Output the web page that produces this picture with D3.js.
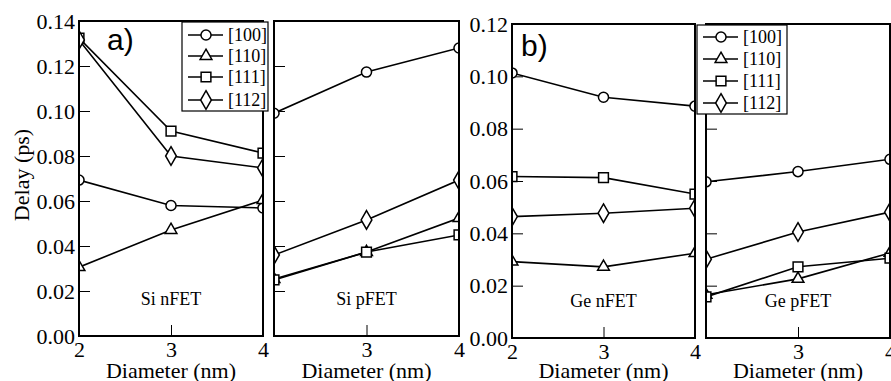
<!DOCTYPE html>
<html>
<head>
<meta charset="utf-8">
<script src="https://cdn.jsdelivr.net/npm/d3@7"></script>
<style>
  body { margin: 0; background: #fff; }
  svg { display: block; }
</style>
</head>
<body>
<script>
// diameters (nm) and orientation names
const diameters = [2, 3, 4];
const orientations = ["[100]", "[110]", "[111]", "[112]"];

// delay (ps), one row per orientation, in the order above
const siNFET = [
    [0.0693, 0.0580, 0.0569],
    [0.0306, 0.0471, 0.0604],
    [0.1324, 0.0911, 0.0813],
    [0.1316, 0.0800, 0.0747]
];
const siPFET = [
    [0.0990, 0.1173, 0.1280],
    [0.0253, 0.0373, 0.0524],
    [0.0249, 0.0373, 0.0449],
    [0.0360, 0.0516, 0.0693]
];
const geNFET = [
    [0.1013, 0.0920, 0.0886],
    [0.0292, 0.0272, 0.0324],
    [0.0617, 0.0613, 0.0550],
    [0.0464, 0.0477, 0.0496]
];
const gePFET = [
    [0.0597, 0.0636, 0.0683],
    [0.0165, 0.0226, 0.0325],
    [0.0157, 0.0272, 0.0305],
    [0.0301, 0.0405, 0.0481]
];

const width = 891, height = 381;
const SERIF = "'Liberation Serif', 'Times New Roman', Times, 'DejaVu Serif', serif";
const SANS = "'Liberation Sans', Arial, Helvetica, sans-serif";

var svg = d3.select("body").append("svg")
    .attr("width", width)
    .attr("height", height);

var panels = [
    { title: "Si nFET", data: siNFET, x0: 79, x1: 263, y0: 21, y1: 336, ymax: 0.14, xticks: [2, 3, 4], ylab: true },
    { title: "Si pFET", data: siPFET, x0: 274, x1: 459, y0: 21, y1: 336, ymax: 0.14, xticks: [3, 4], ylab: false },
    { title: "Ge nFET", data: geNFET, x0: 512, x1: 695, y0: 24, y1: 338, ymax: 0.12, xticks: [2, 3, 4], ylab: true },
    { title: "Ge pFET", data: gePFET, x0: 706, x1: 890, y0: 24, y1: 338, ymax: 0.12, xticks: [3, 4], ylab: false }
];

// marker shapes per orientation
var shapes = [d3.symbolCircle, d3.symbolTriangle, d3.symbolSquare, d3.symbolDiamond];
var sizes = [80, 60, 95, 100];

panels.forEach(function (p, i) {
    var x = d3.scaleLinear().domain([2, 4]).range([p.x0, p.x1]);
    var y = d3.scaleLinear().domain([0, p.ymax]).range([p.y1, p.y0]);

    var g = svg.append("g");

    // y axis, ticks inside
    var yAxis = d3.axisLeft(y)
        .tickValues(d3.range(0, p.ymax + 0.001, 0.02))
        .tickSizeInner(-11).tickSizeOuter(0).tickPadding(4)
        .tickFormat(p.ylab ? d3.format(".2f") : "");
    var ya = g.append("g").attr("transform", "translate(" + p.x0 + ",0)").call(yAxis);
    ya.select(".domain").remove();
    ya.selectAll("text").style("font-size", "22px").style("font-family", SERIF).attr("fill", "#000");
    ya.selectAll("line").attr("stroke", "#000");

    // x axis, ticks inside
    var xAxis = d3.axisBottom(x)
        .tickValues([2, 3, 4])
        .tickSizeInner(-11).tickSizeOuter(0).tickPadding(5)
        .tickFormat(function (d) { return p.xticks.indexOf(d) >= 0 ? d : ""; });
    var xa = g.append("g").attr("transform", "translate(0," + p.y1 + ")").call(xAxis);
    xa.select(".domain").remove();
    xa.selectAll("text").style("font-size", "22px").style("font-family", SERIF).attr("fill", "#000");
    xa.selectAll("line").attr("stroke", "#000");

    // clip for lines and markers
    g.append("clipPath").attr("id", "clip" + i)
        .append("rect")
        .attr("x", p.x0).attr("y", p.y0)
        .attr("width", p.x1 - p.x0).attr("height", p.y1 - p.y0);

    var plot = g.append("g").attr("clip-path", "url(#clip" + i + ")");

    var line = d3.line()
        .x(function (d, j) { return x(diameters[j]); })
        .y(function (d) { return y(d); });

    plot.selectAll(".series")
        .data(p.data)
        .enter().append("path")
        .attr("class", "series")
        .attr("d", line)
        .attr("fill", "none")
        .attr("stroke", "#000")
        .attr("stroke-width", 1.6);

    p.data.forEach(function (row, k) {
        plot.selectAll(".m" + k)
            .data(row)
            .enter().append("path")
            .attr("class", "m" + k)
            .attr("d", d3.symbol().type(shapes[k]).size(sizes[k]))
            .attr("transform", function (d, j) {
                return "translate(" + x(diameters[j]) + "," + y(d) + ")";
            })
            .attr("fill", "#fff")
            .attr("stroke", "#000")
            .attr("stroke-width", 1.5);
    });

    // frame
    g.append("rect")
        .attr("x", p.x0).attr("y", p.y0)
        .attr("width", p.x1 - p.x0).attr("height", p.y1 - p.y0)
        .attr("fill", "none")
        .attr("stroke", "#000")
        .attr("stroke-width", 2);

    // panel caption
    g.append("text")
        .attr("x", x(3))
        .attr("y", p.y1 - 31)
        .attr("text-anchor", "middle")
        .style("font-family", SERIF)
        .style("font-size", "18px")
        .text(p.title);

    // x axis title
    g.append("text")
        .attr("x", (p.x0 + p.x1) / 2)
        .attr("y", 378)
        .attr("text-anchor", "middle")
        .style("font-family", SERIF)
        .style("font-size", "22px")
        .text("Diameter (nm)");
});

// y axis title
svg.append("text")
    .attr("transform", "translate(29,175) rotate(-90)")
    .attr("text-anchor", "middle")
    .style("font-family", SERIF)
    .style("font-size", "22px")
    .text("Delay (ps)");

// panel letters
svg.append("text")
    .attr("x", 107).attr("y", 50)
    .style("font-family", SANS)
    .style("font-size", "30px")
    .text("a)");
svg.append("text")
    .attr("x", 521).attr("y", 56)
    .style("font-family", SANS)
    .style("font-size", "30px")
    .text("b)");

// legends
function legend(lx, ly, w, h, rowY) {
    var lg = svg.append("g").attr("transform", "translate(" + lx + "," + ly + ")");
    lg.append("rect")
        .attr("width", w).attr("height", h)
        .attr("fill", "#fff")
        .attr("stroke", "#000")
        .attr("stroke-width", 1.2);
    orientations.forEach(function (name, k) {
        var cy = rowY[k];
        lg.append("line")
            .attr("x1", 6).attr("x2", 41)
            .attr("y1", cy).attr("y2", cy)
            .attr("stroke", "#000").attr("stroke-width", 1.6);
        lg.append("path")
            .attr("d", d3.symbol().type(shapes[k]).size(sizes[k]))
            .attr("transform", "translate(24," + cy + ")")
            .attr("fill", "#fff").attr("stroke", "#000").attr("stroke-width", 1.5);
        lg.append("text")
            .attr("x", 46).attr("y", cy).attr("dy", "0.35em")
            .style("font-family", SERIF)
            .style("font-size", "18px")
            .text(name);
    });
}
legend(182, 22, 86, 89, [13, 34, 55, 78]);
legend(697, 25, 90, 89, [12, 34, 56, 78]);
</script>
</body>
</html>
